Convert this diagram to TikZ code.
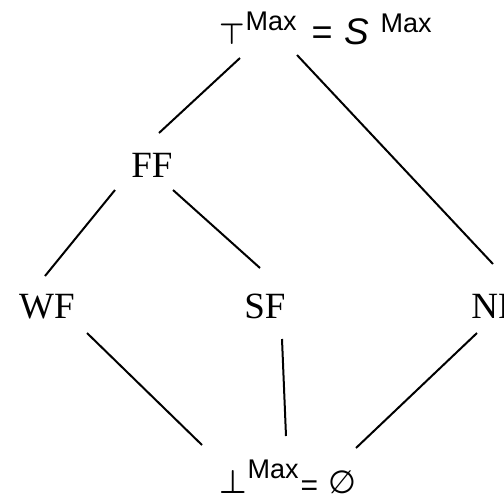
\documentclass[tikz,border=0pt]{standalone}
\usepackage{fontspec}
\setmainfont{Liberation Serif}
\setsansfont{Liberation Sans}
\newfontfamily\symfont{DejaVu Sans}
\newcommand{\putat}[2]{\rlap{\hspace{#1}#2}}
\begin{document}
\begin{tikzpicture}[x=1pt,y=-1pt,
  conn/.style={line width=2pt},
  lbl/.style={font=\fontsize{37}{40}\selectfont, inner sep=0pt, anchor=base},
  eqlbl/.style={inner sep=0pt, anchor=base west}]
\useasboundingbox (0,0) rectangle (504,499);
\fill[white] (0,0) rectangle (504,499);

\node[eqlbl] (top) at (219,44) {%
  \putat{0pt}{\resizebox{25.5pt}{20.5pt}{\boldmath$\top$}}%
  \putat{26pt}{\raisebox{14pt}{\sffamily\fontsize{27}{28}\selectfont Max}}%
  \putat{92pt}{\sffamily\fontsize{36}{40}\selectfont =}%
  \putat{125pt}{\sffamily\fontsize{37}{40}\selectfont\itshape S}%
  \putat{161pt}{\raisebox{12pt}{\sffamily\fontsize{27}{28}\selectfont Max}}%
  \hspace{213pt}};
\node[lbl] (ff) at (152,177) {FF};
\node[lbl] (wf) at (47,318) {WF};
\node[lbl] (sf) at (265,318) {SF};
\node[lbl] (nf) at (495,318) {NF};
\node[eqlbl] (bot) at (219,493) {%
  \putat{0pt}{\resizebox{27.5pt}{23pt}{\boldmath$\bot$}}%
  \putat{28pt}{\raisebox{15pt}{\sffamily\fontsize{27}{28}\selectfont Max}}%
  \putat{81pt}{\raisebox{-2pt}{\sffamily\fontsize{30}{32}\selectfont =}}%
  \putat{109pt}{\symfont\fontsize{32}{34}\selectfont ∅}%
  \hspace{137pt}};

\draw[conn] ([shift={(21,14)}]top.base west) -- ([shift={(7,-44)}]ff.base);
\draw[conn] ([shift={(78,11)}]top.base west) -- ([shift={(-2,-54)}]nf.base);
\draw[conn] ([shift={(-37,13)}]ff.base) -- ([shift={(-2,-42)}]wf.base);
\draw[conn] ([shift={(21,13)}]ff.base) -- ([shift={(-5,-50)}]sf.base);
\draw[conn] ([shift={(40,15)}]wf.base) -- ([shift={(-17,-48)}]bot.base west);
\draw[conn] ([shift={(17,21)}]sf.base) -- ([shift={(67,-57)}]bot.base west);
\draw[conn] ([shift={(-18,15)}]nf.base) -- ([shift={(137,-45)}]bot.base west);
\end{tikzpicture}
\end{document}
